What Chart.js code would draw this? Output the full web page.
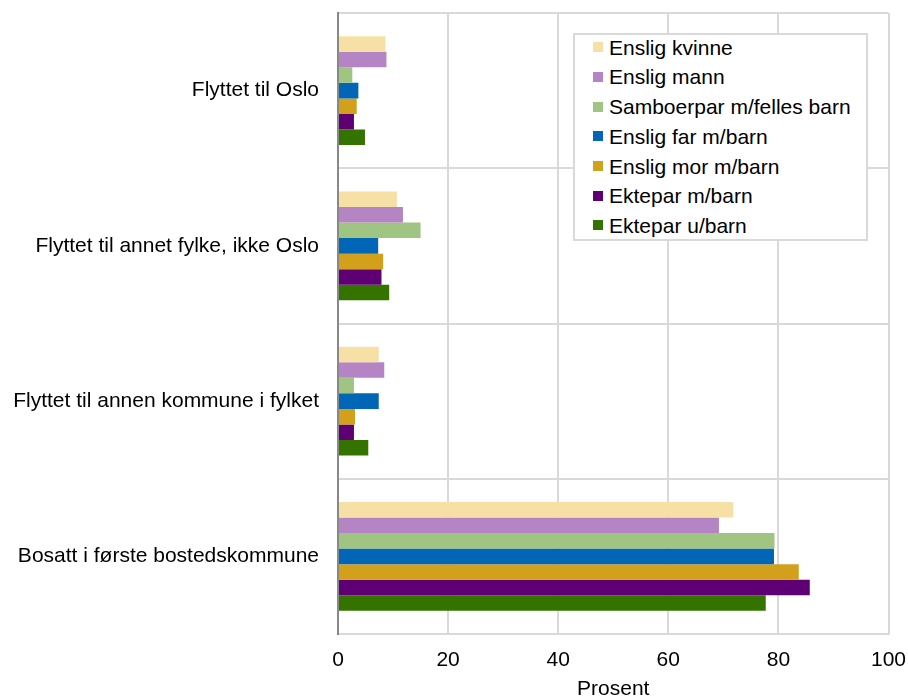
<!DOCTYPE html>
<html>
<head>
<meta charset="utf-8">
<script src="https://cdn.jsdelivr.net/npm/chart.js@4"></script>
<style>
html,body{margin:0;padding:0;background:#fff;}
#wrap{position:relative;width:908px;height:700px;}
#legend{position:absolute;left:573px;top:33px;width:291px;height:204px;border:2px solid #d9d9d9;background:#fff;font-family:"Liberation Sans",Arial,sans-serif;font-size:21px;color:#000;}
.row{position:absolute;left:18px;height:24px;line-height:24px;white-space:nowrap;}
.sw{display:inline-block;width:10px;height:10px;margin-right:6px;vertical-align:middle;position:relative;top:-2px;}
</style>
</head>
<body>
<div id="wrap">
<canvas id="c" width="908" height="700"></canvas>
<div id="legend"></div>
</div>
<script>
const categories = ["Flyttet til Oslo", "Flyttet til annet fylke, ikke Oslo", "Flyttet til annen kommune i fylket", "Bosatt i første bostedskommune"];
const seriesNames = ["Enslig kvinne", "Enslig mann", "Samboerpar m/felles barn", "Enslig far m/barn", "Enslig mor m/barn", "Ektepar m/barn", "Ektepar u/barn"];
const ensligKvinne = [8.6, 10.7, 7.4, 71.8];
const ensligMann = [8.8, 11.8, 8.4, 69.2];
const samboerpar = [2.6, 15.0, 2.9, 79.3];
const ensligFar = [3.7, 7.3, 7.4, 79.2];
const ensligMor = [3.4, 8.2, 3.1, 83.7];
const ekteparMBarn = [2.9, 7.9, 2.9, 85.7];
const ekteparUBarn = [4.9, 9.3, 5.5, 77.7];
const xTicks = [0, 20, 40, 60, 80, 100];
const axisTitle = "Prosent";

const seriesValues = [ensligKvinne, ensligMann, samboerpar, ensligFar, ensligMor, ekteparMBarn, ekteparUBarn];
const colors = ["#F7E0A6", "#B584C4", "#A0C482", "#0066B5", "#D3A01B", "#5E0073", "#357300"];

Chart.defaults.font.family = '"Liberation Sans", Arial, sans-serif';
Chart.defaults.font.size = 21;
Chart.defaults.color = '#000';

const datasets = seriesNames.map((n, i) => ({
  label: n,
  data: seriesValues[i],
  backgroundColor: colors[i],
  borderWidth: 0,
  categoryPercentage: 0.7,
  barPercentage: 1.0
}));

new Chart(document.getElementById('c'), {
  type: 'bar',
  data: { labels: categories, datasets },
  options: {
    indexAxis: 'y',
    responsive: false,
    animation: false,
    layout: { padding: { top: 13, right: 19.5, left: 0, bottom: 0 } },
    plugins: { legend: { display: false }, tooltip: { enabled: false } },
    scales: {
      x: {
        min: 0, max: 100,
        afterBuildTicks: (s) => { s.ticks = xTicks.map(v => ({ value: v })); },
        ticks: { padding: 14, font: { size: 21 }, maxRotation: 0 },
        grid: { color: '#d9d9d9', lineWidth: 2, drawTicks: false },
        border: { display: true, color: '#d9d9d9', width: 2 },
        title: { display: true, text: axisTitle, font: { size: 21, lineHeight: 1 }, padding: { top: 0, bottom: 0 } },
        afterFit: (s) => { s.height = 66; s.paddingLeft = 0; s.paddingRight = 0; }
      },
      y: {
        ticks: { padding: 19, font: { size: 21 } },
        grid: { color: '#d9d9d9', lineWidth: 2, drawTicks: false, offset: true },
        border: { display: true, color: '#888888', width: 2, z: 1 },
        afterFit: (s) => { s.width = 338; s.paddingTop = 0; s.paddingBottom = 0; }
      }
    }
  }
});

const lg = document.getElementById('legend');
seriesNames.forEach((n, i) => {
  const r = document.createElement('div');
  r.className = 'row';
  r.style.top = (12.7 + 29.7 * i - 12) + 'px';
  const sw = document.createElement('span');
  sw.className = 'sw';
  sw.style.background = colors[i];
  r.appendChild(sw);
  r.appendChild(document.createTextNode(n));
  lg.appendChild(r);
});
</script>
</body>
</html>
